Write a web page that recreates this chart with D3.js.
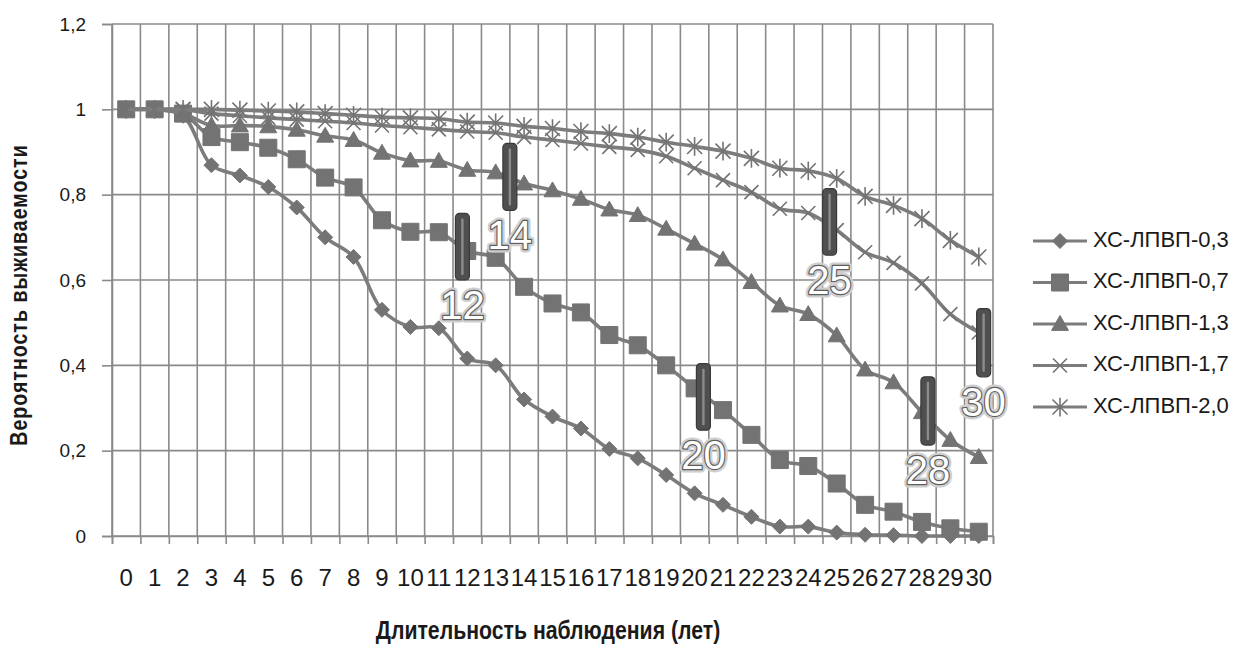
<!DOCTYPE html>
<html lang="ru">
<head>
<meta charset="utf-8">
<script src="https://cdn.jsdelivr.net/npm/d3@7/dist/d3.min.js"></script>
<style>
  html, body { margin: 0; padding: 0; background: #fff; }
  svg { display: block; }
  text { font-family: "Liberation Sans", "DejaVu Sans", sans-serif; }
</style>
</head>
<body>
<svg id="chart" width="1234" height="648"></svg>
<script>
// Years of follow-up (category axis)
const years = d3.range(0, 31);
const yearLabels = years.map(String);

// Survival probability by HDL-cholesterol group
const seriesNames = ["ХС-ЛПВП-0,3", "ХС-ЛПВП-0,7", "ХС-ЛПВП-1,3", "ХС-ЛПВП-1,7", "ХС-ЛПВП-2,0"];

const hdl03 = [1, 1, 0.985, 0.869, 0.845, 0.818, 0.77, 0.70, 0.654, 0.53, 0.49, 0.487, 0.416, 0.40, 0.32, 0.28,
               0.252, 0.204, 0.182, 0.143, 0.10, 0.073, 0.045, 0.022, 0.022, 0.008, 0.003, 0.002, 0, 0, 0];
const hdl07 = [1, 1, 0.99, 0.935, 0.923, 0.91, 0.883, 0.84, 0.817, 0.74, 0.713, 0.712, 0.668, 0.652, 0.584, 0.545,
               0.524, 0.471, 0.447, 0.40, 0.346, 0.295, 0.237, 0.178, 0.164, 0.123, 0.073, 0.057, 0.033, 0.018, 0.01];
const hdl13 = [1, 1, 0.99, 0.962, 0.962, 0.96, 0.952, 0.938, 0.928, 0.898, 0.88, 0.879, 0.858, 0.852, 0.826, 0.81,
               0.79, 0.765, 0.752, 0.72, 0.685, 0.648, 0.595, 0.54, 0.52, 0.47, 0.39, 0.36, 0.29, 0.225, 0.185];
const hdl17 = [1, 1, 1, 0.99, 0.985, 0.98, 0.976, 0.972, 0.968, 0.962, 0.958, 0.953, 0.948, 0.945, 0.935, 0.928,
               0.92, 0.912, 0.905, 0.89, 0.862, 0.834, 0.806, 0.767, 0.757, 0.717, 0.665, 0.64, 0.592, 0.52, 0.477];
const hdl20 = [1, 1, 1, 1, 0.998, 0.996, 0.994, 0.99, 0.986, 0.982, 0.98, 0.978, 0.97, 0.968, 0.96, 0.955,
               0.948, 0.943, 0.935, 0.923, 0.913, 0.902, 0.885, 0.862, 0.856, 0.838, 0.796, 0.775, 0.744, 0.693, 0.654];

const yTicks = [0, 0.2, 0.4, 0.6, 0.8, 1, 1.2];

// Marked years: position on the year axis and the probability span covered by the marker bar
const markLabels = ["12", "14", "20", "25", "28", "30"];
const markYears  = [11.83, 13.5, 20.31, 24.75, 28.21, 30.17];
const markTop    = [0.756, 0.92, 0.404, 0.814, 0.373, 0.533];
const markBottom = [0.60, 0.763, 0.248, 0.658, 0.213, 0.373];

const series = [
  { name: seriesNames[0], values: hdl03, marker: "diamond" },
  { name: seriesNames[1], values: hdl07, marker: "square" },
  { name: seriesNames[2], values: hdl13, marker: "triangle" },
  { name: seriesNames[3], values: hdl17, marker: "x" },
  { name: seriesNames[4], values: hdl20, marker: "star" }
];

const svg = d3.select("#chart");
const plot = { left: 112, right: 993, top: 24, bottom: 536 };

const x = d3.scaleLinear().domain([-0.5, 30.5]).range([plot.left, plot.right]);
const y = d3.scaleLinear().domain([0, 1.2]).range([plot.bottom, plot.top]);

const gridColor = "#8a8a8a";
const lineColor = "#7c7c7c";
const markColor = "#737373";
const textColor = "#1a1a1a";

// Grid
const grid = svg.append("g");
grid.selectAll("line.h").data(yTicks).join("line")
  .attr("x1", plot.left).attr("x2", plot.right)
  .attr("y1", d => y(d)).attr("y2", d => y(d))
  .attr("stroke", gridColor).attr("stroke-width", 1.6);
const bounds = d3.range(-0.5, 31, 1);
grid.selectAll("line.v").data(bounds).join("line")
  .attr("x1", d => x(d)).attr("x2", d => x(d))
  .attr("y1", plot.top).attr("y2", plot.bottom)
  .attr("stroke", gridColor).attr("stroke-width", 1.6);

// Y axis
const yAxis = d3.axisLeft(y).tickValues(yTicks)
  .tickFormat(d => d3.format("~g")(d).replace(".", ","))
  .tickSize(10).tickPadding(16);
const gy = svg.append("g").attr("transform", `translate(${plot.left},0)`).call(yAxis);
gy.select(".domain").attr("stroke", gridColor).attr("stroke-width", 1.6);
gy.selectAll(".tick line").attr("stroke", gridColor).attr("stroke-width", 1.6);
gy.selectAll(".tick text").attr("font-size", 19).style("fill", textColor)
  .attr("font-family", "'Liberation Sans', sans-serif");

// X axis: labels at categories, ticks on category boundaries
const gx = svg.append("g").attr("transform", `translate(0,${plot.bottom})`);
gx.call(d3.axisBottom(x).tickValues(bounds).tickSize(8).tickFormat(""));
gx.select(".domain").attr("stroke", gridColor).attr("stroke-width", 1.6);
gx.selectAll(".tick line").attr("stroke", gridColor).attr("stroke-width", 1.6);
gx.selectAll("text.lbl").data(years).join("text")
  .attr("class", "lbl")
  .attr("x", d => x(d)).attr("y", 44)
  .attr("text-anchor", "middle").attr("dominant-baseline", "middle")
  .attr("font-size", 24).style("fill", textColor)
  .text((d, i) => yearLabels[i]);

// Axis titles (condensed bold)
svg.append("text")
  .attr("transform", "translate(548,632) scale(0.85,1)")
  .attr("text-anchor", "middle").attr("dominant-baseline", "middle")
  .attr("font-size", 25).attr("font-weight", "bold").style("fill", textColor)
  .text("Длительность наблюдения (лет)");
svg.append("text")
  .attr("transform", "translate(21,295) rotate(-90) scale(0.85,1)")
  .attr("text-anchor", "middle").attr("dominant-baseline", "middle")
  .attr("font-size", 23).attr("font-weight", "bold").attr("letter-spacing", 1.2)
  .style("fill", textColor)
  .text("Вероятность выживаемости");

// Marker shapes
function markerPath(type) {
  switch (type) {
    case "diamond": { const r = 7.5; return `M0,${-r}L${r},0L0,${r}L${-r},0Z`; }
    case "square":  { const r = 8.5; return `M${-r},${-r}H${r}V${r}H${-r}Z`; }
    case "triangle":{ const r = 8.5; return `M0,${-r}L${r},${r * 0.75}L${-r},${r * 0.75}Z`; }
    case "x":       { const r = 7; return `M${-r},${-r}L${r},${r}M${-r},${r}L${r},${-r}`; }
    case "star":    { const r = 7.5; return `M${-r},${-r}L${r},${r}M${-r},${r}L${r},${-r}M0,${-r * 1.25}L0,${r * 1.25}`; }
  }
}
function drawMarker(sel, type) {
  const stroked = type === "x" || type === "star";
  sel.append("path").attr("d", markerPath(type))
    .attr("fill", stroked ? "none" : markColor)
    .attr("stroke", markColor)
    .attr("stroke-width", stroked ? 1.6 : 1);
}

// Series lines and markers
const line = d3.line()
  .x((d, i) => x(years[i]))
  .y(d => y(d))
  .curve(d3.curveCatmullRom.alpha(0.5));

series.forEach(s => {
  const g = svg.append("g");
  g.append("path").attr("d", line(s.values))
    .attr("fill", "none").attr("stroke", lineColor).attr("stroke-width", 3.6)
    .attr("stroke-linejoin", "round");
  g.selectAll("g.m").data(s.values).join("g")
    .attr("transform", (d, i) => `translate(${x(years[i])},${y(d)})`)
    .each(function () { drawMarker(d3.select(this), s.marker); });
});

// Year marks
const marks = svg.append("g");
markLabels.forEach((lab, i) => {
  const cx = x(markYears[i]);
  const top = y(markTop[i]), bot = y(markBottom[i]);
  marks.append("rect")
    .attr("x", cx - 7).attr("y", top).attr("width", 14).attr("height", bot - top)
    .attr("rx", 4).attr("fill", "#4f4f4f").attr("stroke", "#3a3a3a").attr("stroke-width", 1.2);
  marks.append("rect")
    .attr("x", cx - 1.2).attr("y", top + 5).attr("width", 2.4).attr("height", bot - top - 10)
    .attr("rx", 1).attr("fill", "#8c8c8c");
  const ty = bot + 39;
  marks.append("text").attr("x", cx).attr("y", ty).attr("text-anchor", "middle")
    .attr("font-size", 40).style("fill", "none").attr("stroke", "#cfcfcf").attr("stroke-width", 7)
    .attr("stroke-linejoin", "round").text(lab);
  marks.append("text").attr("x", cx).attr("y", ty).attr("text-anchor", "middle")
    .attr("font-size", 40).style("fill", "#ffffff").attr("stroke", "#5e5e5e").attr("stroke-width", 2.4)
    .attr("stroke-linejoin", "round").attr("paint-order", "stroke").text(lab);
});

// Legend
const legend = svg.append("g");
series.forEach((s, i) => {
  const ly = 241 + i * 41.5;
  const g = legend.append("g").attr("transform", `translate(0,${ly})`);
  g.append("line").attr("x1", 1033).attr("x2", 1087).attr("y1", 0).attr("y2", 0)
    .attr("stroke", lineColor).attr("stroke-width", 3);
  const m = g.append("g").attr("transform", "translate(1060,0)");
  drawMarker(m, s.marker);
  g.append("text").attr("x", 1093).attr("y", 0).attr("dominant-baseline", "middle")
    .attr("font-size", 22).style("fill", textColor).text(s.name);
});
</script>
</body>
</html>
